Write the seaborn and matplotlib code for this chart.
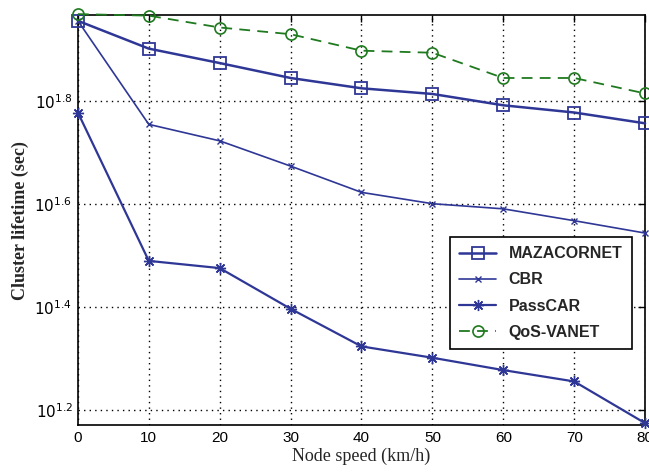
import numpy as np
import pandas as pd
import matplotlib
matplotlib.use("Agg")
import matplotlib.pyplot as plt
import seaborn as sns

speeds = [0, 10, 20, 30, 40, 50, 60, 70, 80]
# values read as log10(lifetime)
mazacornet_log = [1.956, 1.902, 1.874, 1.845, 1.825, 1.814, 1.792, 1.778, 1.757]
cbr_log = [1.956, 1.755, 1.723, 1.674, 1.623, 1.601, 1.591, 1.568, 1.544]
passcar_log = [1.778, 1.490, 1.476, 1.397, 1.324, 1.302, 1.278, 1.256, 1.175]
qos_log = [1.969, 1.966, 1.943, 1.930, 1.898, 1.894, 1.845, 1.845, 1.815]
ytick_exps = [1.2, 1.4, 1.6, 1.8]
xticks = [0, 10, 20, 30, 40, 50, 60, 70, 80]

series = {
    "MAZACORNET": mazacornet_log,
    "CBR": cbr_log,
    "PassCAR": passcar_log,
    "QoS-VANET": qos_log,
}

sns.set_theme(style="white")
plt.rcParams['font.family'] = ['Liberation Sans', 'DejaVu Sans']

fig = plt.figure(figsize=(6.49, 4.73), dpi=100)
ax = fig.add_axes([0.120, 0.101, 0.874, 0.867])

blue = "#2f3796"
green = "#1f7a1f"
styles = {
    "MAZACORNET": dict(color=blue, marker="s", markersize=9, markerfacecolor="none",
                       markeredgecolor=blue, markeredgewidth=1.3, linewidth=1.8, linestyle="-"),
    "CBR": dict(color=blue, marker="x", markersize=5, markeredgewidth=1.0,
                markeredgecolor=blue, linewidth=1.2, linestyle="-"),
    "PassCAR": dict(color=blue, marker=(8, 2, 0), markersize=8, markeredgewidth=1.0,
                    markeredgecolor=blue, linewidth=1.6, linestyle="-"),
    "QoS-VANET": dict(color=green, marker="o", markersize=8, markerfacecolor="none",
                      markeredgecolor=green, markeredgewidth=1.2, linewidth=1.3,
                      linestyle=(0, (6, 4))),
}

for name, vals in series.items():
    df = pd.DataFrame({"speed": speeds, "life": np.power(10.0, vals)})
    sns.lineplot(data=df, x="speed", y="life", ax=ax, label=name, clip_on=False,
                 zorder=3, **styles[name])

ax.set_yscale("log")
ax.set_xlim(0, 80)
ax.set_ylim(10 ** 1.171, 10 ** 1.967)
ax.set_xticks(xticks)
ax.set_xticklabels([str(t) for t in xticks], fontsize=11)
ax.set_yticks([10 ** e for e in ytick_exps])
ax.set_yticklabels([r"$10^{%g}$" % e for e in ytick_exps], fontsize=11)
ax.yaxis.set_minor_locator(matplotlib.ticker.NullLocator())

ax.grid(True, which="major", color="black", linestyle=(0, (1, 3)), linewidth=1.0)
ax.tick_params(direction="in", length=5, width=1, top=True, right=True, colors="black",
               pad=4)
for s in ax.spines.values():
    s.set_color("black")
    s.set_linewidth(1.2)

ax.set_xlabel("Node speed (km/h)", fontsize=13, family="Liberation Serif", labelpad=2)
ax.set_ylabel("Cluster lifetime (sec)", fontsize=13, family="Liberation Serif",
              fontweight="bold", labelpad=4)

leg = ax.legend(loc="lower right", bbox_to_anchor=(0.977, 0.185), borderaxespad=0,
                frameon=True, fancybox=False, edgecolor="black", framealpha=1,
                prop=dict(family="Liberation Sans", weight="bold", size=11.5),
                handlelength=2.3, borderpad=0.6, labelspacing=0.7)
leg.get_frame().set_linewidth(1.2)
leg.set_zorder(5)

fig.savefig("out.png", dpi=100)
